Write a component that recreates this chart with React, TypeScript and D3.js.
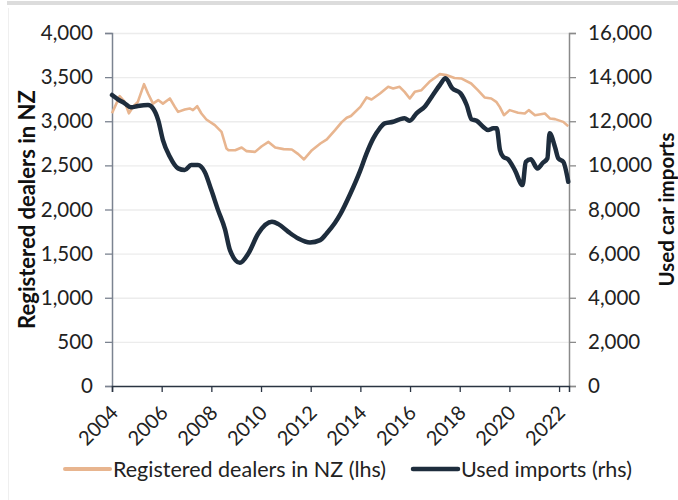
import { useRef, useEffect } from 'react';
import * as d3 from 'd3';

// Registered dealers in NZ (lhs) - decimal year / count
const dealerYears = [
  2004.0, 2004.31, 2004.51, 2004.68, 2004.85, 2005.04, 2005.29, 2005.45, 2005.65, 2005.86,
  2006.05, 2006.33, 2006.53, 2006.66, 2006.93, 2007.13, 2007.26, 2007.43, 2007.6, 2007.8,
  2008.14, 2008.41, 2008.61, 2008.69, 2008.96, 2009.22, 2009.42, 2009.76, 2010.03, 2010.3,
  2010.57, 2010.91, 2011.24, 2011.5, 2011.73, 2012.05, 2012.39, 2012.65, 2012.98, 2013.25,
  2013.45, 2013.62, 2014.0, 2014.25, 2014.45, 2014.79, 2015.12, 2015.32, 2015.58, 2015.78,
  2015.99, 2016.19, 2016.46, 2016.78, 2017.2, 2017.46, 2017.79, 2018.06, 2018.46, 2018.73,
  2019.0, 2019.27, 2019.47, 2019.61, 2019.78, 2020.01, 2020.35, 2020.62, 2020.78, 2021.03,
  2021.43, 2021.63, 2021.84, 2022.17, 2022.37,
];
const dealerValues = [
  3090, 3285, 3220, 3090, 3165, 3220, 3420, 3315, 3200, 3240,
  3200, 3258, 3163, 3106, 3133, 3145, 3126, 3170, 3088, 3020,
  2956, 2880, 2690, 2672, 2672, 2703, 2661, 2653, 2717, 2766,
  2703, 2684, 2680, 2627, 2567, 2672, 2748, 2794, 2899, 2990,
  3040, 3060, 3163, 3270, 3247, 3315, 3390, 3372, 3390, 3333,
  3258, 3333, 3352, 3447, 3534, 3523, 3490, 3485, 3428, 3352,
  3270, 3258, 3220, 3163, 3069, 3126, 3096, 3088, 3126, 3069,
  3088, 3032, 3024, 2993, 2944,
];

// Used car imports (rhs)
const importYears = [
  2004.0, 2004.24, 2004.51, 2004.77, 2005.04, 2005.45, 2005.65, 2005.86, 2006.05, 2006.33,
  2006.66, 2006.93, 2007.19, 2007.46, 2007.73, 2008.0, 2008.27, 2008.55, 2008.75, 2009.15,
  2009.49, 2009.89, 2010.44, 2010.7, 2011.1, 2011.5, 2011.97, 2012.38, 2012.64, 2012.98,
  2013.2, 2013.59, 2013.99, 2014.25, 2014.52, 2014.78, 2014.98, 2015.32, 2015.58, 2015.78,
  2015.99, 2016.26, 2016.59, 2016.92, 2017.2, 2017.43, 2017.7, 2018.03, 2018.28, 2018.48,
  2018.68, 2018.94, 2019.14, 2019.35, 2019.49, 2019.62, 2019.75, 2019.95, 2020.22, 2020.53,
  2020.66, 2020.86, 2021.13, 2021.35, 2021.53, 2021.62, 2021.84, 2021.97, 2022.17, 2022.37,
];
const importValues = [
  13190, 12995, 12813, 12632, 12690, 12736, 12586, 12055, 11148, 10390,
  9864, 9787, 10014, 10014, 9710, 8880, 7972, 7100, 6157, 5581,
  6007, 6915, 7441, 7337, 6987, 6688, 6506, 6611, 6915, 7400,
  7800, 8700, 9750, 10544, 11225, 11678, 11906, 11978, 12087, 12132,
  12023, 12359, 12659, 13190, 13643, 13947, 13493, 13267, 12736, 12087,
  12023, 11751, 11601, 11678, 11678, 10694, 10390, 10272, 9787, 9106,
  10163, 10272, 9864, 10118, 10317, 11452, 10817, 10317, 10163, 9256,
];

const xTicks = [2004, 2006, 2008, 2010, 2012, 2014, 2016, 2018, 2020, 2022];
const leftTicks = [0, 500, 1000, 1500, 2000, 2500, 3000, 3500, 4000];
const rightTicks = [0, 2000, 4000, 6000, 8000, 10000, 12000, 14000, 16000];

const TAN = '#e8b58f';
const NAVY = '#1e2d3d';
const FONT = 'Lato, "Open Sans", sans-serif';

const App = () => {
  const svgRef = useRef(null);

  useEffect(() => {
    const svg = d3.select(svgRef.current);
    svg.selectAll('*').remove();

    const W = 678, H = 500;
    const left = 112, right = 569, top = 33, bottom = 386;

    // card frame
    svg.append('rect').attr('x', 7).attr('y', 1).attr('width', W - 7).attr('height', 4).attr('fill', '#dcdcdc');
    svg.append('line').attr('x1', 8.5).attr('x2', 8.5).attr('y1', 8).attr('y2', H)
      .attr('stroke', '#efefef').attr('stroke-width', 1);

    const x = d3.scaleLinear().domain([2004, 2022.4]).range([left, right]);
    const yL = d3.scaleLinear().domain([0, 4000]).range([bottom, top]);
    const yR = d3.scaleLinear().domain([0, 16000]).range([bottom, top]);

    // grid
    svg.append('g')
      .attr('transform', `translate(${left},0)`)
      .call(d3.axisLeft(yL).tickValues(leftTicks.slice(1)).tickSize(-(right - left)).tickFormat(() => ''))
      .call(g => g.select('.domain').remove())
      .selectAll('line').attr('stroke', '#ececec').attr('stroke-width', 1.3);

    // left axis
    const la = svg.append('g')
      .attr('transform', `translate(${left},0)`)
      .call(d3.axisLeft(yL).tickValues(leftTicks).tickSize(7).tickPadding(12).tickFormat(d3.format(',')));
    la.select('.domain').attr('stroke', '#7b8390').attr('stroke-width', 1.5);
    la.selectAll('line').attr('stroke', '#7b8390').attr('stroke-width', 1.3);
    la.selectAll('text').attr('font-family', FONT).attr('font-size', 20.5).attr('fill', '#222');

    // right axis
    const ra = svg.append('g')
      .attr('transform', `translate(${right},0)`)
      .call(d3.axisRight(yR).tickValues(rightTicks).tickSize(7).tickPadding(12).tickFormat(d3.format(',')));
    ra.select('.domain').attr('stroke', '#8a8a8a').attr('stroke-width', 1.5);
    ra.selectAll('line').attr('stroke', '#8a8a8a').attr('stroke-width', 1.3);
    ra.selectAll('text').attr('font-family', FONT).attr('font-size', 20.5).attr('fill', '#222');

    // bottom axis
    const ba = svg.append('g')
      .attr('transform', `translate(0,${bottom})`)
      .call(d3.axisBottom(x).tickValues(xTicks).tickSize(6).tickFormat(d3.format('d')));
    ba.select('.domain').attr('stroke', '#2a3442').attr('stroke-width', 1.5);
    ba.selectAll('line').attr('stroke', '#2a3442').attr('stroke-width', 1.3);
    ba.selectAll('text')
      .attr('font-family', FONT).attr('font-size', 20).attr('fill', '#222')
      .attr('text-anchor', 'end')
      .attr('dy', null)
      .attr('y', 0)
      .attr('transform', 'translate(7,28) rotate(-45)');

    // lines
    const dealers = dealerYears.map((d, i) => [d, dealerValues[i]]);
    const imports = importYears.map((d, i) => [d, importValues[i]]);

    svg.append('path')
      .datum(dealers)
      .attr('fill', 'none')
      .attr('stroke', TAN)
      .attr('stroke-width', 2.6)
      .attr('stroke-linejoin', 'round')
      .attr('d', d3.line().x(d => x(d[0])).y(d => yL(d[1])));

    svg.append('path')
      .datum(imports)
      .attr('fill', 'none')
      .attr('stroke', NAVY)
      .attr('stroke-width', 4.5)
      .attr('stroke-linejoin', 'round')
      .attr('stroke-linecap', 'round')
      .attr('d', d3.line().curve(d3.curveMonotoneX).x(d => x(d[0])).y(d => yR(d[1])));

    // axis titles
    svg.append('text')
      .attr('transform', `translate(35,${(top + bottom) / 2}) rotate(-90)`)
      .attr('text-anchor', 'middle')
      .attr('font-family', FONT).attr('font-size', 22).attr('font-weight', 700).attr('fill', '#111')
      .text('Registered dealers in NZ');

    svg.append('text')
      .attr('transform', `translate(674,${(top + bottom) / 2}) rotate(-90)`)
      .attr('text-anchor', 'middle')
      .attr('font-family', FONT).attr('font-size', 20.5).attr('font-weight', 700).attr('fill', '#111')
      .text('Used car imports');

    // legend
    const legend = [
      { label: 'Registered dealers in NZ (lhs)', color: TAN, w: 4, x0: 65 },
      { label: 'Used imports (rhs)', color: NAVY, w: 4.5, x0: 413 },
    ];
    legend.forEach(l => {
      svg.append('line')
        .attr('x1', l.x0).attr('x2', l.x0 + 45).attr('y1', 469).attr('y2', 469)
        .attr('stroke', l.color).attr('stroke-width', l.w).attr('stroke-linecap', 'round');
      svg.append('text')
        .attr('x', l.x0 + 48).attr('y', 477)
        .attr('font-family', FONT).attr('font-size', 21.5).attr('fill', '#222')
        .text(l.label);
    });
  }, []);

  return (
    <div style={{ position: 'absolute', left: 0, top: 0, width: 678, height: 500, background: '#fff' }}>
      <svg ref={svgRef} width={678} height={500} style={{ display: 'block' }} />
    </div>
  );
};

export default App;
